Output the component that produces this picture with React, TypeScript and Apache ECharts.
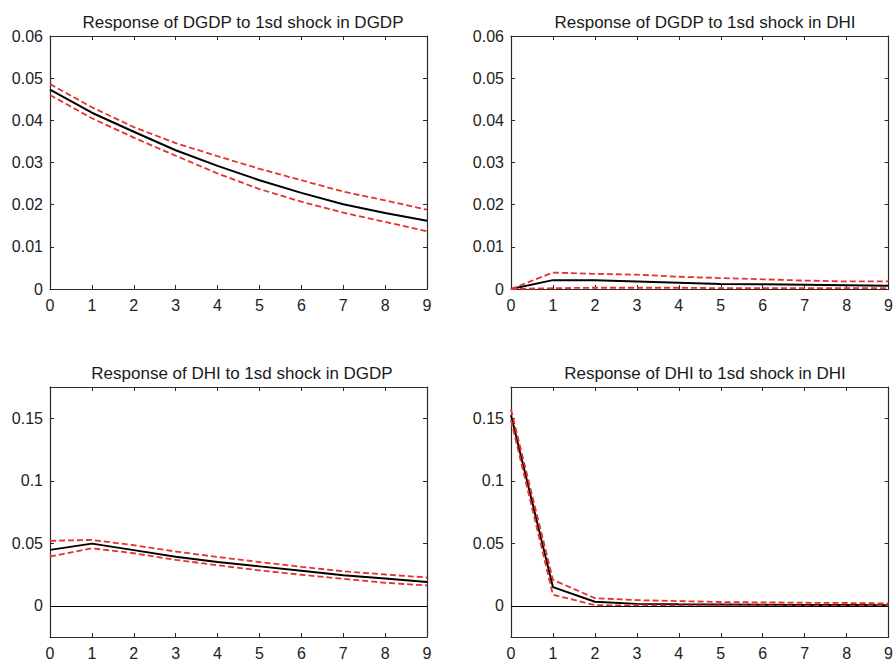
import React, { useEffect, useRef } from "react";
import * as echarts from "echarts";

const steps = [0, 1, 2, 3, 4, 5, 6, 7, 8, 9];

const titles = [
  "Response of DGDP to 1sd shock in DGDP",
  "Response of DGDP to 1sd shock in DHI",
  "Response of DHI to 1sd shock in DGDP",
  "Response of DHI to 1sd shock in DHI",
];

// Panel 1: DGDP <- DGDP
const p1Mid = [0.0473, 0.0418, 0.0373, 0.0329, 0.0292, 0.0258, 0.0228, 0.0201, 0.0180, 0.0162];
const p1Up = [0.0486, 0.0431, 0.0384, 0.0346, 0.0315, 0.0285, 0.0258, 0.0231, 0.0210, 0.0188];
const p1Lo = [0.0460, 0.0405, 0.0359, 0.0316, 0.0274, 0.0237, 0.0207, 0.0181, 0.0159, 0.0137];

// Panel 2: DGDP <- DHI
const p2Mid = [0, 0.0021, 0.0021, 0.0018, 0.0015, 0.0012, 0.0011, 0.0010, 0.0009, 0.0008];
const p2Up = [0, 0.0039, 0.0036, 0.0034, 0.0029, 0.0026, 0.0023, 0.0020, 0.0018, 0.0018];
const p2Lo = [0, 0.0002, 0.0003, 0.0003, 0.0003, 0.0002, 0.0002, 0.0002, 0.0002, 0.0002];

// Panel 3: DHI <- DGDP
const p3Mid = [0.0447, 0.0497, 0.0445, 0.0392, 0.0350, 0.0315, 0.0280, 0.0244, 0.0218, 0.0190];
const p3Up = [0.0519, 0.0527, 0.0484, 0.0434, 0.0390, 0.0350, 0.0311, 0.0276, 0.0250, 0.0226];
const p3Lo = [0.0394, 0.0460, 0.0420, 0.0367, 0.0324, 0.0283, 0.0248, 0.0215, 0.0184, 0.0162];

// Panel 4: DHI <- DHI
const p4Mid = [0.1524, 0.0149, 0.0032, 0.0015, 0.0012, 0.0010, 0.0008, 0.0007, 0.0006, 0.0005];
const p4Up = [0.1570, 0.0207, 0.0061, 0.0045, 0.0037, 0.0030, 0.0027, 0.0024, 0.0022, 0.0019];
const p4Lo = [0.1484, 0.0088, 0.0005, 0.0002, 0.0002, 0.0002, 0.0002, 0.0001, 0.0001, 0.0001];

const topYTicks = [0, 0.01, 0.02, 0.03, 0.04, 0.05, 0.06];
const bottomYTicks = [0, 0.05, 0.1, 0.15];

const panels = [
  { mid: p1Mid, up: p1Up, lo: p1Lo, ymin: 0, ymax: 0.06, ticks: topYTicks, zero: false },
  { mid: p2Mid, up: p2Up, lo: p2Lo, ymin: 0, ymax: 0.06, ticks: topYTicks, zero: false },
  { mid: p3Mid, up: p3Up, lo: p3Lo, ymin: -0.025, ymax: 0.175, ticks: bottomYTicks, zero: true },
  { mid: p4Mid, up: p4Up, lo: p4Lo, ymin: -0.025, ymax: 0.175, ticks: bottomYTicks, zero: true },
];

const grids = [
  { left: 50, top: 36, width: 377, height: 253 },
  { left: 511, top: 36, width: 379, height: 253 },
  { left: 50, top: 387, width: 377, height: 251 },
  { left: 511, top: 387, width: 379, height: 251 },
];

const titlePos = [
  { x: 238, y: 9 },
  { x: 700, y: 9 },
  { x: 237, y: 360 },
  { x: 700, y: 360 },
];

const FONT = "'Liberation Sans', Arial, Helvetica, sans-serif";
const AXIS_COLOR = "#2b2b2b";
const RED = "#e5322d";

export default function App() {
  const ref = useRef<HTMLDivElement>(null);

  useEffect(() => {
    document.body.style.margin = "0";
    if (!ref.current) return;
    const chart = echarts.init(ref.current, undefined, { renderer: "svg" });

    const xAxes: any[] = [];
    const yAxes: any[] = [];
    const series: any[] = [];

    panels.forEach((p, i) => {
      const axisLine = { show: true, onZero: false, lineStyle: { color: AXIS_COLOR, width: 1.2 } };
      const tick = { show: true, inside: true, length: 4, lineStyle: { color: AXIS_COLOR, width: 1 } };
      xAxes.push({
        type: "value", gridIndex: i, position: "bottom", min: 0, max: 9, interval: 1,
        axisLine, axisTick: tick, splitLine: { show: false },
        axisLabel: { show: true, color: "#222", fontSize: 16, fontFamily: FONT, margin: 8, showMaxLabel: true, showMinLabel: true },
      });
      xAxes.push({
        type: "value", gridIndex: i, position: "top", min: 0, max: 9, interval: 1,
        axisLine, axisTick: tick, splitLine: { show: false }, axisLabel: { show: false },
      });
      const yTick = { ...tick, customValues: p.ticks };
      yAxes.push({
        type: "value", gridIndex: i, position: "left", min: p.ymin, max: p.ymax,
        axisLine, axisTick: yTick, splitLine: { show: false },
        axisLabel: {
          show: true, color: "#222", fontSize: 16, fontFamily: FONT, margin: 7,
          customValues: p.ticks,
          formatter: (v: number) => String(parseFloat(v.toFixed(4))),
        },
      });
      yAxes.push({
        type: "value", gridIndex: i, position: "right", min: p.ymin, max: p.ymax,
        axisLine, axisTick: yTick, splitLine: { show: false }, axisLabel: { show: false },
      });

      const xIdx = i * 2;
      const yIdx = i * 2;
      const mk = (vals: number[]) => steps.map((s, k) => [s, vals[k]]);
      series.push({
        type: "line", xAxisIndex: xIdx, yAxisIndex: yIdx, data: mk(p.mid),
        showSymbol: false, symbol: "none",
        lineStyle: { color: "#000", width: 2 }, z: 3,
        markLine: p.zero
          ? {
              silent: true, symbol: ["none", "none"], label: { show: false },
              lineStyle: { color: "#000", width: 1, type: "solid" },
              data: [{ yAxis: 0 }],
            }
          : undefined,
      });
      series.push({
        type: "line", xAxisIndex: xIdx, yAxisIndex: yIdx, data: mk(p.up),
        showSymbol: false, symbol: "none",
        lineStyle: { color: RED, width: 1.8, type: [6, 3] }, z: 4,
      });
      series.push({
        type: "line", xAxisIndex: xIdx, yAxisIndex: yIdx, data: mk(p.lo),
        showSymbol: false, symbol: "none",
        lineStyle: { color: RED, width: 1.8, type: [6, 3] }, z: 4,
      });
    });

    chart.setOption({
      animation: false,
      backgroundColor: "#fff",
      title: titles.map((t, i) => ({
        text: t,
        left: titlePos[i].x,
        top: titlePos[i].y,
        textAlign: "center",
        textStyle: { fontSize: 17, fontWeight: "normal", color: "#1a1a1a", fontFamily: FONT },
      })),
      grid: grids.map((g) => ({ ...g, containLabel: false })),
      xAxis: xAxes,
      yAxis: yAxes,
      series,
    });

    return () => chart.dispose();
  }, []);

  return <div ref={ref} style={{ width: 896, height: 661 }} />;
}
